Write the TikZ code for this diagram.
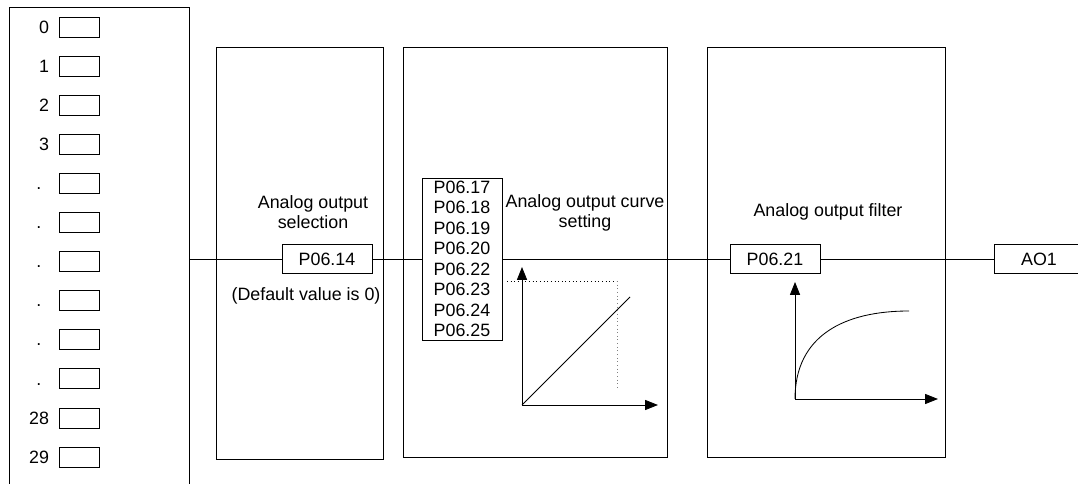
\documentclass[tikz,border=0pt]{standalone}
\usepackage{fontspec}
\setmainfont{Liberation Sans}
\usetikzlibrary{arrows.meta,positioning}
\tikzset{
  pbox/.style={draw, minimum width=22.5mm, minimum height=7.4mm, inner sep=0pt},
  slot/.style={draw, minimum width=10mm, minimum height=5mm, inner sep=0pt},
  axis/.style={-{Triangle[length=3.2mm,width=2.5mm]}},
}
\begin{document}
\begin{tikzpicture}[x=0.25mm, y=-0.25mm, line width=0.6pt, font=\fontsize{12.7}{14.6}\selectfont]
    \clip (0,0) rectangle (1078,484);
    % Source list
    \draw (9,484) -- (9,7) -- (189,7) -- (189,484);
    \foreach \i in {0,...,11}
        \node [slot] (s\i) at (79.5,27+39.1*\i) {};
    \foreach \i/\t in {0/0,1/1,2/2,3/3,10/28,11/29}
        \node [inner sep=0pt, left=2.4mm of s\i] (n\i) {\t};
    \foreach \i in {4,...,9}
        \node [inner sep=0pt, left=4.3mm of s\i] (n\i) {\vphantom{0}.};
    % Blocks
    \draw (216,47) rectangle (383,459);
    \draw (403,47) rectangle (667,457);
    \draw (707,47) rectangle (945,457);
    % Parameters
    \coordinate (src) at (189,259);
    \node [pbox] (sel) at (327,259) {P06.14};
    \node [draw, align=center, minimum width=20mm, inner xsep=0pt, inner ysep=2pt] (crv) at (462,259)
        {P06.17\\P06.18\\P06.19\\P06.20\\P06.22\\P06.23\\P06.24\\P06.25};
    \node [pbox] (flt) at (775,259) {P06.21};
    \node [pbox] (ao) at (1039,259) {AO1};
    % Titles
    \node [align=center] (selTxt) at (313,212) {Analog output\\selection};
    \node (defTxt) at (306,296) {(Default value is 0)};
    \node [align=center] (crvTxt) at (585,213) {Analog output curve\\setting};
    \node (fltTxt) at (828,212) {Analog output filter};
    % Links
    \draw (src) -- (sel);
    \draw (sel) -- (crv);
    \draw (crv) -- (flt);
    \draw (flt) -- (ao);
    % Curve setting graph
    \coordinate (o1) at (522,405);
    \draw [axis] (o1) -- (522,267);
    \draw [axis] (o1) -- (658,405);
    \draw (o1) -- (630,297);
    \draw [dotted] (507,281) -- (617,281);
    \draw [dotted, gray] (617,281) -- (617,389);
    % Filter graph
    \coordinate (o2) at (795,399);
    \draw [axis] (o2) -- (795,282);
    \draw [axis] (o2) -- (938,399);
    \draw (o2) .. controls (795,335) and (845,311) .. (909,311);
\end{tikzpicture}
\end{document}
